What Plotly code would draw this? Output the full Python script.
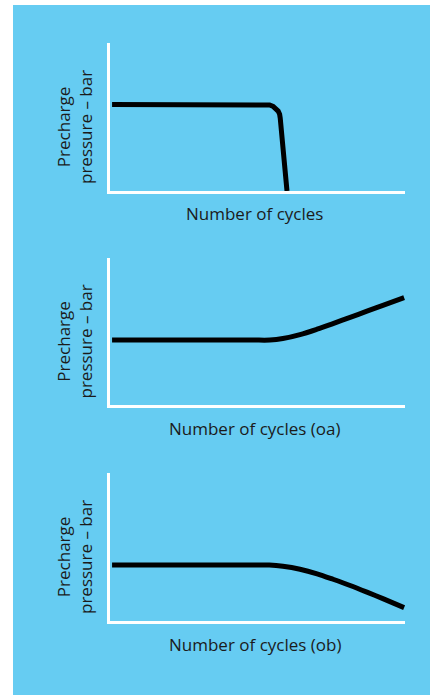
import plotly.graph_objects as go
from plotly.subplots import make_subplots

# readings off the three sketches (cycles and pressure on a 0-100 scale)
cycles_a = [0.7, 52.8, 54.1, 55.3, 56.3, 57.0, 57.5, 57.7, 60.0]
pressure_a = [58.4, 58.4, 58.1, 57.2, 55.8, 54.0, 51.8, 49.3, 0.0]

cycles_b = [0.7, 48.0, 54.2, 58.6, 64.4, 70.2, 75.6, 81.4, 87.1, 92.5, 99.7]
pressure_b = [44.2, 44.2, 44.2, 45.2, 47.9, 51.6, 55.4, 59.6, 63.8, 67.8, 73.0]

cycles_c = [0.7, 48.0, 54.0, 58.6, 64.4, 70.2, 75.6, 81.4, 87.1, 92.5, 99.7]
pressure_c = [37.8, 37.8, 37.8, 37.0, 35.0, 31.9, 28.2, 24.0, 19.5, 15.1, 9.0]

y_title = "Precharge<br>pressure – bar"
x_titles = ["Number of cycles", "Number of cycles (oa)", "Number of cycles (ob)"]

W, H = 430, 695
BG = "#66ccf2"
TXT = "#1b1b1b"
FONT = "Open Sans"

# panel boxes in pixels: (left, right, top, bottom)
_boxes = [(110, 405, 43, 191), (110, 405, 258, 405), (110, 405, 473, 621)]
# first sketch has a tight knee, keep it straight-segmented
_shapes = ["linear", "spline", "spline"]


def _px_x(px):
    return px / W


def _px_y(py):
    return 1 - py / H


fig = make_subplots(rows=3, cols=1)
series = [(cycles_a, pressure_a), (cycles_b, pressure_b), (cycles_c, pressure_c)]

for i, (xs, ys) in enumerate(series):
    row = i + 1
    line = dict(color="black", width=5, shape=_shapes[i])
    if _shapes[i] == "spline":
        line["smoothing"] = 0.8
    fig.add_trace(
        go.Scatter(
            x=xs,
            y=ys,
            mode="lines",
            line=line,
            showlegend=False,
            hoverinfo="skip",
        ),
        row=row,
        col=1,
    )
    left, right, top, bottom = _boxes[i]
    axis_style = dict(
        range=[0, 100],
        showline=True,
        linecolor="white",
        linewidth=2.5,
        showgrid=False,
        zeroline=False,
        showticklabels=False,
        ticks="",
        row=row,
        col=1,
    )
    fig.update_xaxes(domain=[_px_x(left), _px_x(right)], **axis_style)
    fig.update_yaxes(domain=[_px_y(bottom), _px_y(top)], **axis_style)

    mid_y = (top + bottom) / 2 + 10
    fig.add_annotation(
        text=y_title,
        xref="paper",
        yref="paper",
        x=_px_x(74),
        y=_px_y(mid_y),
        textangle=-90,
        showarrow=False,
        xanchor="center",
        yanchor="middle",
        font=dict(family=FONT, size=17, color=TXT),
    )
    fig.add_annotation(
        text=x_titles[i],
        xref="paper",
        yref="paper",
        x=_px_x((left + right) / 2 - 3),
        y=_px_y(bottom + 23),
        showarrow=False,
        xanchor="center",
        yanchor="middle",
        font=dict(family=FONT, size=17, color=TXT),
    )

# blue panel behind everything
fig.add_shape(
    type="rect",
    xref="paper",
    yref="paper",
    x0=_px_x(13),
    x1=1,
    y0=0,
    y1=_px_y(5),
    fillcolor=BG,
    line_width=0,
    layer="below",
)

fig.update_layout(
    width=W,
    height=H,
    margin=dict(l=0, r=0, t=0, b=0),
    paper_bgcolor="white",
    plot_bgcolor="rgba(0,0,0,0)",
)

# drop the page's default body margin so the figure sits at 0,0
fig.write_html(
    "out.html",
    config={"displayModeBar": False},
    post_script="document.body.style.margin='0';document.body.style.overflow='hidden';",
)
